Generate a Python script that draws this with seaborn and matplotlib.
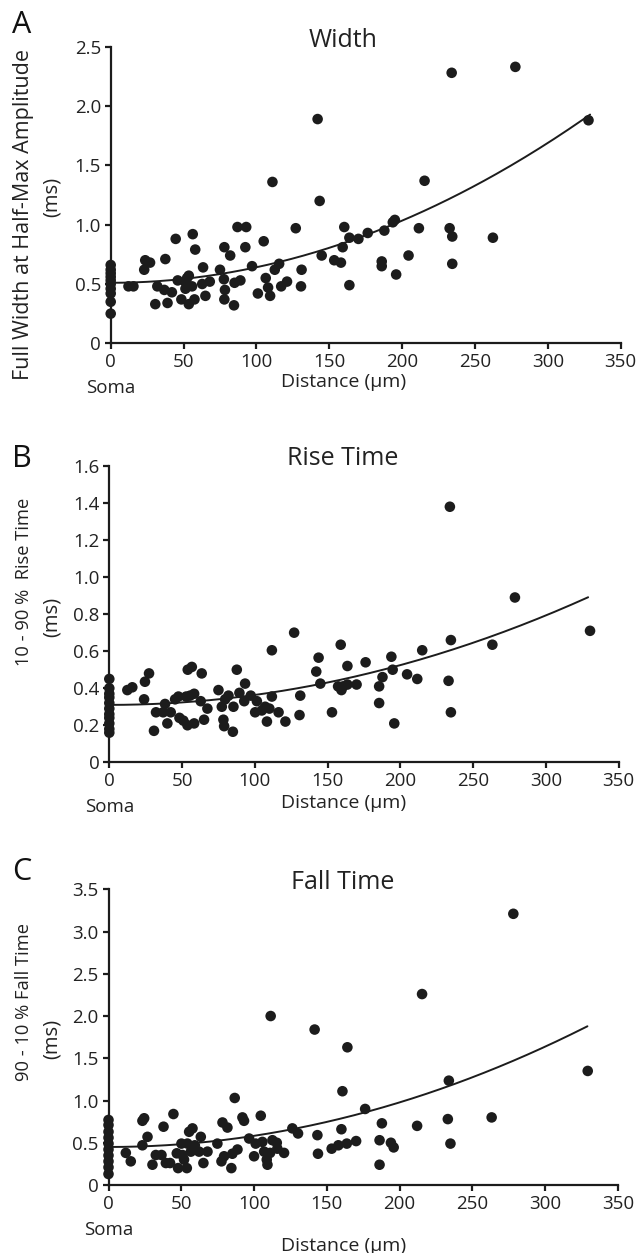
import numpy as np
import pandas as pd
import matplotlib
matplotlib.use("Agg")
import matplotlib.pyplot as plt
import seaborn as sns
from matplotlib.transforms import blended_transform_factory

# ---------------- data ----------------
width_x = [0, 0, 0, 0, 0, 0, 0, 0, 0, 0,
           12.2, 15.6, 23.0, 23.7, 27.0, 30.6, 32.0, 36.8, 37.5, 39.0, 42.0, 44.6, 46.0, 48.5,
           51.0, 51.3, 52.4, 53.6, 53.6, 55.8, 56.3, 57.5, 58.0, 62.8, 63.4, 65.0, 68.0,
           75.0, 77.7, 78.0, 78.4, 78.0, 82.0, 84.6, 85.0, 87.0, 89.0, 92.4, 93.0, 97.0,
           101.0, 105.0, 106.4, 108.0, 109.4, 111.0, 112.6, 115.6, 117.0, 121.0, 127.0,
           130.6, 131.0, 142.0, 143.4, 144.8,
           153.4, 158.0, 159.2, 160.3, 163.8, 163.8, 170.0, 176.4, 186.0, 186.0, 187.8,
           193.6, 195.0, 195.9, 204.4, 211.5, 215.4, 232.6, 234.0, 234.4, 234.4, 262.3,
           277.7, 327.9]
width_y = [0.25, 0.35, 0.42, 0.46, 0.50, 0.53, 0.56, 0.59, 0.62, 0.66,
           0.48, 0.48, 0.62, 0.70, 0.68, 0.33, 0.48, 0.45, 0.71, 0.34, 0.43, 0.88, 0.53, 0.37,
           0.52, 0.46, 0.55, 0.57, 0.33, 0.48, 0.92, 0.37, 0.79, 0.50, 0.64, 0.40, 0.52,
           0.62, 0.54, 0.81, 0.45, 0.37, 0.74, 0.32, 0.51, 0.98, 0.53, 0.81, 0.98, 0.65,
           0.42, 0.86, 0.55, 0.47, 0.40, 1.36, 0.62, 0.67, 0.48, 0.52, 0.97,
           0.48, 0.62, 1.89, 1.20, 0.74,
           0.70, 0.68, 0.81, 0.98, 0.89, 0.49, 0.88, 0.93, 0.69, 0.65, 0.95,
           1.02, 1.04, 0.58, 0.74, 0.97, 1.37, 0.97, 2.28, 0.90, 0.67, 0.89,
           2.33, 1.88]

rise_x = [0, 0, 0, 0, 0, 0, 0, 0, 0, 0, 0,
          12.4, 15.8, 23.9, 24.5, 27.3, 30.7, 32.1, 37.0, 38.3, 39.9, 42.2, 45.2, 47.5, 48.2,
          50.9, 52.8, 53.7, 53.9, 56.7, 55.5, 58.3, 58.3, 62.8, 63.5, 65.1, 67.4,
          75.0, 77.3, 78.4, 78.9, 79.6, 81.9, 84.9, 85.3, 87.6, 89.4, 92.7, 93.3, 97.2,
          100.2, 101.4, 104.8, 107.1, 108.3, 110.0, 111.7, 111.7, 116.3, 121.0, 127.0,
          130.7, 131.2, 142.2, 143.8, 145.0,
          153.0, 159.0, 157.2, 159.5, 160.6, 163.6, 163.6, 169.9, 176.1, 185.4, 185.4,
          187.7, 193.8, 194.7, 195.8, 204.6, 211.6, 215.0, 234.0, 234.7, 233.1, 234.7,
          263.2, 278.7, 330.3]
rise_y = [0.45, 0.40, 0.37, 0.35, 0.32, 0.29, 0.26, 0.24, 0.21, 0.18, 0.16,
          0.39, 0.405, 0.34, 0.435, 0.48, 0.17, 0.27, 0.27, 0.315, 0.21, 0.27, 0.34, 0.355, 0.24,
          0.225, 0.355, 0.20, 0.50, 0.515, 0.36, 0.37, 0.21, 0.33, 0.48, 0.23, 0.29,
          0.39, 0.30, 0.23, 0.195, 0.34, 0.36, 0.165, 0.30, 0.50, 0.375, 0.33, 0.425, 0.36,
          0.27, 0.33, 0.28, 0.30, 0.22, 0.29, 0.355, 0.605, 0.27, 0.22, 0.70,
          0.255, 0.36, 0.49, 0.565, 0.425,
          0.27, 0.635, 0.41, 0.39, 0.41, 0.52, 0.42, 0.42, 0.54, 0.41, 0.32,
          0.46, 0.57, 0.50, 0.21, 0.475, 0.45, 0.605, 1.38, 0.66, 0.44, 0.27,
          0.635, 0.89, 0.71]

fall_x = [0, 0, 0, 0, 0, 0, 0, 0, 0, 0,
          11.9, 15.3, 23.3, 23.3, 24.5, 26.8, 30.2, 32.5, 36.4, 37.8, 39.4, 42.3, 44.6, 46.9,
          47.8, 50.1, 50.8, 51.9, 53.8, 54.2, 55.4, 57.7, 56.6, 59.3, 62.2, 63.4, 65.2, 68.0,
          74.8, 77.6, 78.3, 81.7, 79.4, 84.4, 85.1, 86.7, 88.6, 92.0, 93.1, 96.6,
          100.0, 101.1, 104.6, 105.7, 106.9, 108.7, 109.2, 111.4, 111.0, 112.6, 115.6, 116.0,
          120.6, 126.3, 130.2, 141.6, 143.5, 143.9,
          153.3, 157.9, 160.0, 160.7, 163.7, 164.1, 170.1, 176.3, 186.2, 186.2, 187.8,
          194.0, 195.9, 212.0, 215.4, 233.1, 233.8, 234.9, 263.2, 278.1, 329.2]
fall_y = [0.77, 0.71, 0.63, 0.56, 0.49, 0.42, 0.35, 0.28, 0.21, 0.13,
          0.38, 0.28, 0.47, 0.76, 0.79, 0.57, 0.24, 0.355, 0.355, 0.69, 0.26, 0.26, 0.84, 0.375,
          0.20, 0.49, 0.355, 0.30, 0.20, 0.49, 0.63, 0.67, 0.395, 0.47, 0.395, 0.57, 0.26, 0.395,
          0.49, 0.28, 0.74, 0.68, 0.34, 0.20, 0.37, 1.03, 0.42, 0.80, 0.76, 0.55,
          0.34, 0.49, 0.82, 0.51, 0.395, 0.30, 0.24, 2.00, 0.38, 0.53, 0.50, 0.43,
          0.38, 0.67, 0.61, 1.84, 0.59, 0.37,
          0.43, 0.47, 0.66, 1.11, 0.49, 1.63, 0.52, 0.90, 0.53, 0.24, 0.73,
          0.50, 0.445, 0.70, 2.26, 0.78, 1.235, 0.49, 0.80, 3.21, 1.35]

# fitted curves y = a + c * x^2 (coefficients read from the drawn fits), x range of fit
width_fit = [0.51, 1.31e-5]
rise_fit = [0.31, 5.37e-6]
fall_fit = [0.45, 1.32e-5]
fit_range = [0, 329]

x_ticks = [0, 50, 100, 150, 200, 250, 300, 350]
width_yticks = [0, 0.5, 1.0, 1.5, 2.0, 2.5]
width_ylabels = ["0", "0.5", "1.0", "1.5", "2.0", "2.5"]
rise_yticks = [0, 0.2, 0.4, 0.6, 0.8, 1.0, 1.2, 1.4, 1.6]
rise_ylabels = ["0", "0.2", "0.4", "0.6", "0.8", "1.0", "1.2", "1.4", "1.6"]
fall_yticks = [0, 0.5, 1.0, 1.5, 2.0, 2.5, 3.0, 3.5]
fall_ylabels = ["0", "0.5", "1.0", "1.5", "2.0", "2.5", "3.0", "3.5"]

# ---------------- styling ----------------
sns.set_style("ticks")
plt.rcParams['font.family'] = ['Open Sans', 'DejaVu Sans']
INK = "#1c1c1c"
TXT = "#222222"

W, H = 640, 1253
fig = plt.figure(figsize=(W / 100, H / 100), dpi=100)


def fx(px):
    return px / W


def fy(py):
    return 1 - py / H


panels = [
    dict(x=width_x, y=width_y, fit=width_fit, yt=width_yticks, yl=width_ylabels,
         box=(110.7, 46.7, 620.7, 343.3), title="Width", letter="A",
         ylab1="Full Width at Half-Max Amplitude", ylab1_c=214, ylab2_c=197,
         ylab_fs=15.5, letter_c=25, title_base=47, dist_off=39),
    dict(x=rise_x, y=rise_y, fit=rise_fit, yt=rise_yticks, yl=rise_ylabels,
         box=(109.3, 466.0, 618.7, 762.3), title="Rise Time", letter="B",
         ylab1="10 - 90 %  Rise Time", ylab1_c=582, ylab2_c=617,
         ylab_fs=13.2, letter_c=459, title_base=465, dist_off=41),
    dict(x=fall_x, y=fall_y, fit=fall_fit, yt=fall_yticks, yl=fall_ylabels,
         box=(108.5, 889.3, 618.0, 1185.0), title="Fall Time", letter="C",
         ylab1="90 - 10 % Fall Time", ylab1_c=1002, ylab2_c=1039,
         ylab_fs=13.2, letter_c=872, title_base=889, dist_off=61),
]

for p in panels:
    l, t, r, b = p["box"]
    ax = fig.add_axes([fx(l), fy(b), fx(r - l), (b - t) / H])
    df = pd.DataFrame({"Distance": p["x"], "Value": p["y"]})
    sns.scatterplot(data=df, x="Distance", y="Value", ax=ax, color=INK, s=58,
                    linewidth=0, edgecolor="none", zorder=3, clip_on=False)
    xs = np.linspace(fit_range[0], fit_range[1], 200)
    fit_df = pd.DataFrame({"Distance": xs, "Value": p["fit"][0] + p["fit"][1] * xs ** 2})
    sns.lineplot(data=fit_df, x="Distance", y="Value", ax=ax, color=INK, lw=1.4, zorder=4)

    ax.set_xlim(0, 350)
    ax.set_ylim(0, p["yt"][-1])
    ax.set_xticks(x_ticks)
    ax.set_xticklabels([str(v) for v in x_ticks])
    ax.set_yticks(p["yt"])
    ax.set_yticklabels(p["yl"])
    ax.set_xlabel("")
    ax.set_ylabel("")
    for s in ["top", "right"]:
        ax.spines[s].set_visible(False)
    for s in ["left", "bottom"]:
        ax.spines[s].set_linewidth(1.6)
        ax.spines[s].set_color(INK)
    ax.tick_params(axis="both", direction="out", length=4, width=1.6, color=INK,
                   labelsize=13.5, labelcolor=TXT, pad=3)

    trans = blended_transform_factory(ax.transData, fig.transFigure)
    ax.text(0, fy(b + 45), "Soma", transform=trans, ha="center", va="center",
            fontsize=13.5, color=TXT)
    fig.text(fx(344), fy(b + p["dist_off"]), "Distance (µm)",
             ha="center", va="center", fontsize=14, color=TXT)
    fig.text(fx(343), fy(p["title_base"]), p["title"], ha="center", va="baseline",
             fontsize=18, color=TXT)
    fig.text(fx(22), fy(p["letter_c"]), p["letter"], ha="center", va="center",
             fontsize=22, color="#111111")
    fig.text(fx(24), fy(p["ylab1_c"]), p["ylab1"], rotation=90, ha="center",
             va="center", fontsize=p["ylab_fs"], color=TXT)
    fig.text(fx(52), fy(p["ylab2_c"]), "(ms)", rotation=90, ha="center",
             va="center", fontsize=14.5, color=TXT)

fig.savefig("out.png", dpi=100)
